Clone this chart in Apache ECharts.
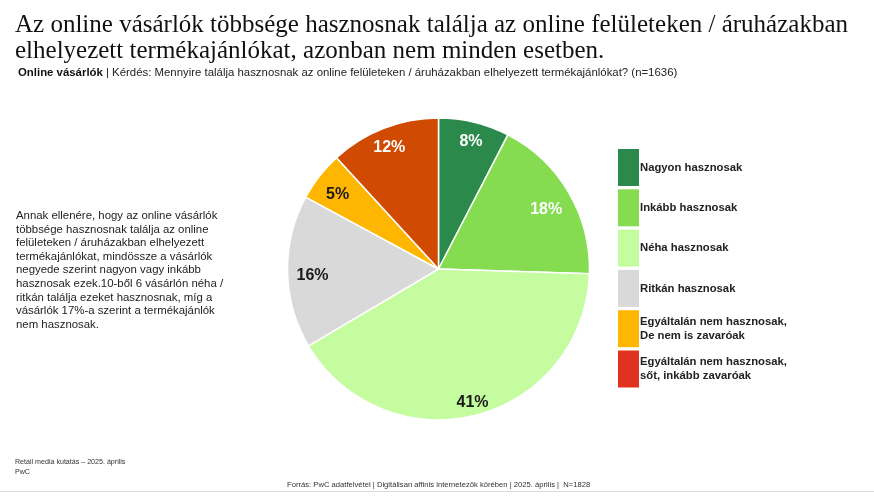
<!DOCTYPE html>
<html>
<head>
<meta charset="utf-8">
<style>
html, body { margin: 0; padding: 0; background: #fff; }
#chart { width: 874px; height: 496px; }
</style>
<script src="https://cdn.jsdelivr.net/npm/echarts@6/dist/echarts.min.js"></script>
</head>
<body>
<div id="chart"></div>
<script>
// adatok
var categories = ['Nagyon hasznosak', 'Inkább hasznosak', 'Néha hasznosak', 'Ritkán hasznosak',
    'Egyáltalán nem hasznosak,\nDe nem is zavaróak', 'Egyáltalán nem hasznosak,\nsőt, inkább zavaróak'];
var values = [7.6, 17.9, 41, 16.4, 5.3, 11.8];
var sliceColors = ['#2B8A4B', '#85DC50', '#C4FC9F', '#D9D9D9', '#FFB600', '#D04A02'];
var legendColors = ['#2B8A4B', '#85DC50', '#C4FC9F', '#D9D9D9', '#FFB600', '#E0301E'];
var labelColors = ['#fff', '#fff', '#1a1a1a', '#1a1a1a', '#1a1a1a', '#fff'];
var labelOffsets = [[1, 2], [-7, 8], [1, 5], [7, 4], [4, 7], [-1, 3]];

var titleLines = 'Az online vásárlók többsége hasznosnak találja az online felületeken / áruházakban\nelhelyezett termékajánlókat, azonban nem minden esetben.';
var subtitleBold = 'Online vásárlók';
var subtitleRest = ' | Kérdés: Mennyire találja hasznosnak az online felületeken / áruházakban elhelyezett termékajánlókat? (n=1636)';
var sideText = 'Annak ellenére, hogy az online vásárlók\ntöbbsége hasznosnak találja az online\nfelületeken / áruházakban elhelyezett\ntermékajánlókat, mindössze a vásárlók\nnegyede szerint nagyon vagy inkább\nhasznosak ezek.10-ből 6 vásárlón néha /\nritkán találja ezeket hasznosnak, míg a\nvásárlók 17%-a szerint a termékajánlók\nnem hasznosak.';
var footLeft = 'Retail media kutatás – 2025. április\nPwC';
var footSource = 'Forrás: PwC adatfelvétel | Digitálisan affinis internetezők körében | 2025. április |  N=1828';

var sans = '"Liberation Sans", Arial, sans-serif';
var pieCenter = [438.5, 269];

var myChart = echarts.init(document.getElementById('chart'));

var sliceData = [];
var labelData = [];
var legendData = [];
for (var i = 0; i < categories.length; i++) {
    sliceData.push({ name: categories[i], value: values[i], itemStyle: { color: sliceColors[i] } });
    labelData.push({ name: categories[i], value: values[i], label: { color: labelColors[i], offset: labelOffsets[i] } });
    legendData.push({ name: categories[i], itemStyle: { color: legendColors[i], borderWidth: 0 } });
}

var option = {
    animation: false,
    backgroundColor: '#fff',
    title: [
        {
            text: titleLines, left: 15, top: 12, padding: 0,
            textStyle: { fontFamily: '"Liberation Serif", serif', fontSize: 25, fontWeight: 'normal', color: '#111', lineHeight: 26.5 }
        },
        {
            text: '{b|' + subtitleBold + '}' + subtitleRest, left: 18, top: 67, padding: 0,
            textStyle: {
                fontFamily: sans, fontSize: 11.4, fontWeight: 'normal', color: '#222',
                rich: { b: { fontFamily: sans, fontSize: 11.4, fontWeight: 'bold', color: '#111' } }
            }
        },
        {
            text: sideText, left: 16, top: 209, padding: 0,
            textStyle: { fontFamily: sans, fontSize: 11.4, fontWeight: 'normal', color: '#222', lineHeight: 13.6 }
        },
        {
            text: footLeft, left: 15, top: 457, padding: 0,
            textStyle: { fontFamily: sans, fontSize: 7.1, fontWeight: 'normal', color: '#333', lineHeight: 10 }
        },
        {
            text: footSource, left: 287, top: 481, padding: 0,
            textStyle: { fontFamily: sans, fontSize: 7.65, fontWeight: 'normal', color: '#333' }
        }
    ],
    legend: {
        orient: 'vertical',
        left: 618,
        top: 149,
        padding: 0,
        itemWidth: 21,
        itemHeight: 37,
        itemGap: 3.3,
        selectedMode: false,
        icon: 'rect',
        data: legendData,
        textStyle: { fontFamily: sans, fontSize: 11.3, fontWeight: 'bold', color: '#222', lineHeight: 13.5, padding: [3, 0, 0, -4] }
    },
    series: [
        {
            type: 'pie',
            center: pieCenter,
            radius: [0, 151],
            startAngle: 90,
            clockwise: true,
            silent: true,
            data: sliceData,
            itemStyle: { borderColor: '#fff', borderWidth: 1.5 },
            label: { show: false },
            labelLine: { show: false }
        },
        // atlatszo gyuru, csak a szazalek cimkek helye miatt
        {
            type: 'pie',
            center: pieCenter,
            radius: [112, 148],
            startAngle: 90,
            clockwise: true,
            silent: true,
            data: labelData,
            itemStyle: { color: 'transparent' },
            label: {
                show: true,
                position: 'inside',
                fontFamily: sans,
                fontSize: 16,
                fontWeight: 'bold',
                formatter: function (p) { return Math.round(p.value) + '%'; }
            },
            labelLine: { show: false }
        }
    ],
    graphic: [
        { type: 'line', shape: { x1: 0, y1: 491.5, x2: 874, y2: 491.5 }, style: { stroke: '#dcdcdc', lineWidth: 1 } }
    ]
};
myChart.setOption(option);
</script>
</body>
</html>
